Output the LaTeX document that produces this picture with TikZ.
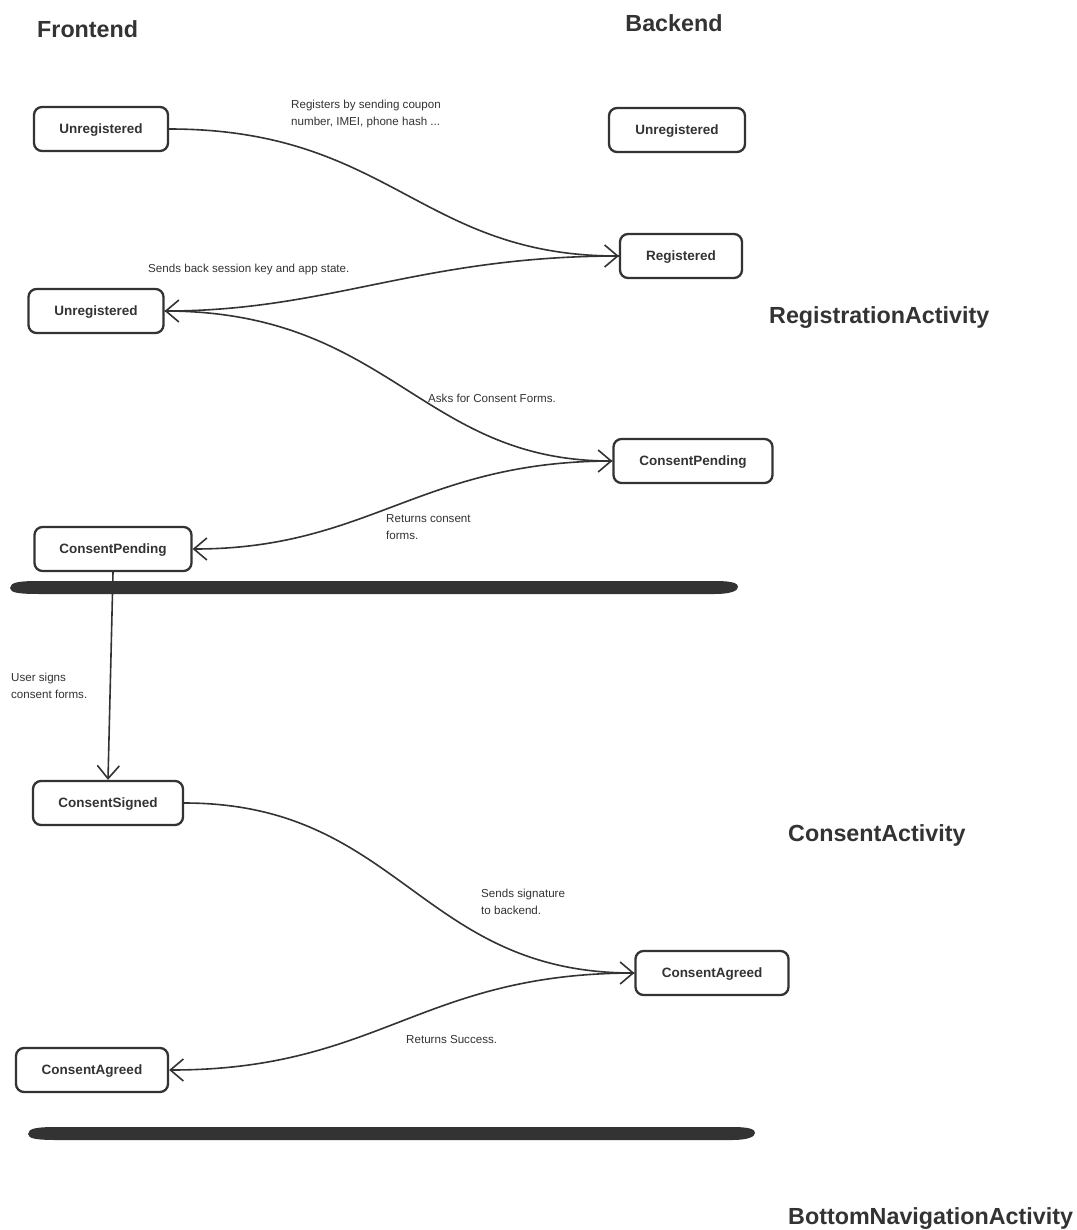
\documentclass[tikz,border=0pt]{standalone}
\usepackage{fontspec}
\setmainfont{Liberation Sans}
\usetikzlibrary{arrows.meta}
\definecolor{ink}{HTML}{333333}
\tikzset{
  state/.style={draw=ink, line width=2.3pt, rounded corners=8pt, fill=white,
    text=ink, font=\fontsize{13.5}{16}\selectfont\bfseries,
    minimum height=44pt, inner sep=0pt, text height=9.7pt, text depth=0pt},
  msg/.style={draw=ink, line width=1.6pt,
    -{Straight Barb[length=13pt,width=22pt,line width=1.6pt]}},
  note/.style={text=ink, font=\fontsize{11.6}{17}\selectfont, align=left,
    anchor=north west, inner sep=0pt},
  heading/.style={text=ink, font=\fontsize{23.3}{27}\selectfont\bfseries, inner sep=0pt},
  bar/.style={fill=ink}
}
\begin{document}
\begin{tikzpicture}[x=1pt,y=-1pt]
\useasboundingbox[fill=white] (0,0) rectangle (1076,1230);

% column and activity headings
\node[heading, anchor=west] (hfront) at (37,29) {Frontend};
\node[heading] (hback) at (674,23) {Backend};
\node[heading, anchor=west] (hreg) at (769,318) {RegistrationActivity};
\node[heading, anchor=west] (hcons) at (788,835) {ConsentActivity};
\node[heading, anchor=west] (hbot) at (788,1219) {BottomNavigationActivity};

% states
\node[state, minimum width=134pt] (fu1) at (101,129) {Unregistered};
\node[state, minimum width=136pt] (bu) at (677,130) {Unregistered};
\node[state, minimum width=122pt] (breg) at (681,256) {Registered};
\node[state, minimum width=135pt] (fu2) at (96,311) {Unregistered};
\node[state, minimum width=159pt] (bcp) at (693,461) {ConsentPending};
\node[state, minimum width=157pt] (fcp) at (113,549) {ConsentPending};
\node[state, minimum width=150pt] (fcs) at (108,803) {ConsentSigned};
\node[state, minimum width=153pt] (bca) at (712,973) {ConsentAgreed};
\node[state, minimum width=152pt] (fca) at (92,1070) {ConsentAgreed};

% activity separators
\fill[bar] (10,588) .. controls (10,582) and (20,581) .. (40,581) -- (715,581)
  .. controls (735,581) and (738,584) .. (738,587)
  .. controls (738,591) and (730,594) .. (715,594) -- (40,594)
  .. controls (20,594) and (10,593) .. (10,588) -- cycle;
\fill[bar] (28,1134) .. controls (28,1128) and (38,1127) .. (58,1127) -- (732,1127)
  .. controls (752,1127) and (755,1130) .. (755,1133)
  .. controls (755,1137) and (747,1140) .. (732,1140) -- (58,1140)
  .. controls (38,1140) and (28,1139) .. (28,1134) -- cycle;

% messages
\draw[msg] (fu1.east) .. controls (390,129) and (420,256) .. (breg.west);
\draw[msg] (breg.west) .. controls (420,256) and (330,311) .. (fu2.east);
\draw[msg] (fu2.east) .. controls (390,311) and (420,461) .. (bcp.west);
\draw[msg] (bcp.west) .. controls (420,461) and (370,549) .. (fcp.east);
\draw[msg] (fcp.south) -- (fcs.north);
\draw[msg] (fcs.east) .. controls (400,803) and (420,973) .. (bca.west);
\draw[msg] (bca.west) .. controls (420,973) and (380,1070) .. (fca.east);

% message notes
\node[note] (n1) at (291,100) {Registers by sending coupon\\number, IMEI, phone hash ...};
\node[note] (n2) at (148,264) {Sends back session key and app state.};
\node[note] (n3) at (428,394) {Asks for Consent Forms.};
\node[note] (n4) at (386,514) {Returns consent\\forms.};
\node[note] (n5) at (11,673) {User signs\\consent forms.};
\node[note] (n6) at (481,889) {Sends signature\\to backend.};
\node[note] (n7) at (406,1035) {Returns Success.};
\end{tikzpicture}
\end{document}
